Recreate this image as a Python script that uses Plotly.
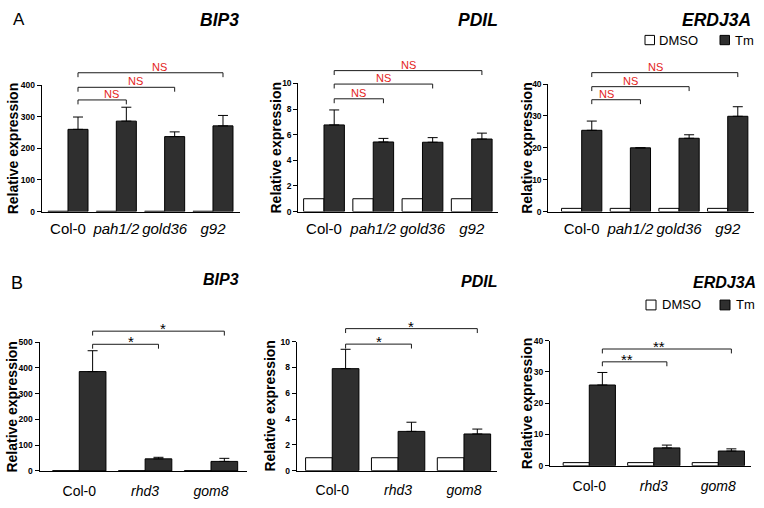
import plotly.graph_objects as go

W, H = 764, 508
FONT = "Liberation Sans, Arial, sans-serif"

# ---------------- data ----------------
cats_A = ["Col-0", "pah1/2", "gold36", "g92"]
labels_A = ["Col-0", "<i>pah1/2</i>", "<i>gold36</i>", "<i>g92</i>"]
cats_B = ["Col-0", "rhd3", "gom8"]
labels_B = ["Col-0", "<i>rhd3</i>", "<i>gom8</i>"]

genes = ["BIP3", "PDIL", "ERDJ3A"]

bip3_A_dmso = [1, 1, 1, 1]
bip3_A_tm = [260, 286, 237, 271]
bip3_A_err = [39, 44, 15, 33]
pdil_A_dmso = [1, 1, 1, 1]
pdil_A_tm = [6.76, 5.43, 5.41, 5.66]
pdil_A_err = [1.17, 0.28, 0.36, 0.46]
erdj_A_dmso = [1, 1, 1, 1]
erdj_A_tm = [25.5, 20.0, 23.0, 29.9]
erdj_A_err = [2.9, 0.0, 1.1, 3.0]

bip3_B_dmso = [1, 1, 1]
bip3_B_tm = [386, 47, 37]
bip3_B_err = [81, 6, 12]
pdil_B_dmso = [1, 1, 1]
pdil_B_tm = [7.9, 3.04, 2.84]
pdil_B_err = [1.5, 0.71, 0.38]
erdj_B_dmso = [1, 1, 1]
erdj_B_tm = [25.8, 5.7, 4.7]
erdj_B_err = [4.0, 0.9, 0.7]

ticks_bip3_A = [0, 100, 200, 300, 400]
ticks_pdil = [0, 2, 4, 6, 8, 10]
ticks_erdj = [0, 10, 20, 30, 40]
ticks_bip3_B = [0, 100, 200, 300, 400, 500]

# significance brackets: heights (data units) and labels, compared against Col-0
sig_bip3_A = [353, 393, 439]
sig_pdil_A = [8.8, 9.95, 11.0]
sig_erdj_A = [35.1, 39.2, 43.6]
sig_labels_A = ["NS", "NS", "NS"]
sig_bip3_B = [492, 543]
sig_pdil_B = [9.8, 11.0]
sig_erdj_B = [33.2, 37.3]
sig_labels_B_star = ["*", "*"]
sig_labels_B_2star = ["**", "**"]

# ---------------- panel geometry (pixels) ----------------
panels = [
    dict(cats=cats_A, labels=labels_A, dmso=bip3_A_dmso, tm=bip3_A_tm, err=bip3_A_err,
         ticks=ticks_bip3_A, sig=sig_bip3_A, siglab=sig_labels_A, gene="BIP3",
         xl=41.7, xr=240, yb=210.7, yt=81.7, xr_rng=(-0.544, 3.559), w=0.414,
         ytitle_x=13.0, title_x=241, title_y=15, row=0),
    dict(cats=cats_A, labels=labels_A, dmso=pdil_A_dmso, tm=pdil_A_tm, err=pdil_A_err,
         ticks=ticks_pdil, sig=sig_pdil_A, siglab=sig_labels_A, gene="PDIL",
         xl=298.3, xr=498.3, yb=210.7, yt=80, xr_rng=(-0.522, 3.54), w=0.414,
         ytitle_x=276, title_x=500, title_y=15, row=0),
    dict(cats=cats_A, labels=labels_A, dmso=erdj_A_dmso, tm=erdj_A_tm, err=erdj_A_err,
         ticks=ticks_erdj, sig=sig_erdj_A, siglab=sig_labels_A, gene="ERDJ3A",
         xl=548.3, xr=754, yb=210.7, yt=80.7, xr_rng=(-0.686, 3.54), w=0.414,
         ytitle_x=527, title_x=753, title_y=15, row=0),
    dict(cats=cats_B, labels=labels_B, dmso=bip3_B_dmso, tm=bip3_B_tm, err=bip3_B_err,
         ticks=ticks_bip3_B, sig=sig_bip3_B, siglab=sig_labels_B_star, gene="BIP3",
         xl=39.5, xr=246.7, yb=475.3, yt=344, xr_rng=(-0.604, 2.542), w=0.405,
         ytitle_x=12.0, title_x=241.3, title_y=280, row=1),
    dict(cats=cats_B, labels=labels_B, dmso=pdil_B_dmso, tm=pdil_B_tm, err=pdil_B_err,
         ticks=ticks_pdil, sig=sig_pdil_B, siglab=sig_labels_B_star, gene="PDIL",
         xl=296.7, xr=496.7, yb=475, yt=343.3, xr_rng=(-0.54, 2.497), w=0.405,
         ytitle_x=270.5, title_x=499.3, title_y=282, row=1),
    dict(cats=cats_B, labels=labels_B, dmso=erdj_B_dmso, tm=erdj_B_tm, err=erdj_B_err,
         ticks=ticks_erdj, sig=sig_erdj_B, siglab=sig_labels_B_2star, gene="ERDJ3A",
         xl=550, xr=750.7, yb=470, yt=342.3, xr_rng=(-0.609, 2.502), w=0.405,
         ytitle_x=527, title_x=757.7, title_y=283, row=1),
]

fig = go.Figure()
shapes = []
annotations = []

def pxp(x):
    return x / W

def pyp(y):
    return 1 - y / H

for i, p in enumerate(panels):
    k = "" if i == 0 else str(i + 1)
    xa, ya = "x" + k, "y" + k
    n = len(p["cats"])
    w = p["w"]
    ymax = p["ticks"][-1]
    fig.add_trace(go.Bar(x=p["cats"], y=p["dmso"], width=w, offset=-w,
                         marker=dict(color="white", line=dict(color="black", width=1)),
                         xaxis=xa, yaxis=ya, showlegend=False, name="DMSO"))
    fig.add_trace(go.Bar(x=p["cats"], y=p["tm"], width=w, offset=0,
                         marker=dict(color="#2f2f2f", line=dict(color="black", width=1)),
                         error_y=dict(type="data", array=p["err"], arrayminus=[0] * n,
                                      symmetric=False, color="black", thickness=1, width=5),
                         xaxis=xa, yaxis=ya, showlegend=False, name="Tm"))
    tf = 15 if p["row"] == 0 else 14
    fig.layout["xaxis" + k] = dict(
        domain=[pxp(p["xl"]), pxp(p["xr"])], range=list(p["xr_rng"]), anchor=ya,
        showline=True, linecolor="black", linewidth=1, ticks="", showgrid=False,
        zeroline=False, tickvals=p["cats"], ticktext=p["labels"], tickangle=0,
        tickfont=dict(size=tf, color="black", family=FONT),
        ticklabelstandoff=3 if p["row"] == 0 else 7,
        fixedrange=True)
    fig.layout["yaxis" + k] = dict(
        domain=[pyp(p["yb"]), pyp(p["yt"])], range=[0, ymax], anchor=xa,
        showline=True, linecolor="black", linewidth=1, ticks="outside", ticklen=4,
        tickwidth=1, tickcolor="black", tickvals=p["ticks"], showgrid=False,
        zeroline=False, tickfont=dict(size=8.5, color="black", family=FONT, weight="bold"),
        fixedrange=True)

    lo, hi = p["xr_rng"]

    def xpix(v, p=p, lo=lo, hi=hi):
        return p["xl"] + (v - lo) / (hi - lo) * (p["xr"] - p["xl"])

    def ypix(v, p=p, ymax=ymax):
        return p["yb"] - v / ymax * (p["yb"] - p["yt"])

    # significance brackets
    x0 = xpix(0 + w / 2)
    for j, (hgt, lab) in enumerate(zip(p["sig"], p["siglab"])):
        x1 = xpix(j + 1 + w / 2)
        yl = ypix(hgt)
        tick = 4.5
        path = "M {} {} L {} {} L {} {} L {} {}".format(
            pxp(x0), pyp(yl + tick), pxp(x0), pyp(yl), pxp(x1), pyp(yl), pxp(x1), pyp(yl + tick))
        shapes.append(dict(type="path", path=path, xref="paper", yref="paper",
                           line=dict(color="#1a1a1a", width=1)))
        if lab == "NS":
            annotations.append(dict(x=pxp((x0 + x1) / 2), y=pyp(yl), xref="paper", yref="paper",
                                    text=lab, showarrow=False, yanchor="bottom", yshift=-2,
                                    font=dict(size=11, color="#e3241b", family=FONT)))
        else:
            annotations.append(dict(x=pxp((x0 + x1) / 2), y=pyp(yl), xref="paper", yref="paper",
                                    text=lab, showarrow=False, yanchor="bottom", yshift=-8,
                                    font=dict(size=15, color="black", family=FONT)))

    # y-axis title
    annotations.append(dict(x=pxp(p["ytitle_x"]), y=pyp((p["yb"] + p["yt"]) / 2),
                            xref="paper", yref="paper", text="Relative expression",
                            textangle=-90, showarrow=False, xanchor="center", yanchor="middle",
                            font=dict(size=14, color="black", family=FONT, weight="bold")))
    # gene title
    gsize = 17.5 if p["row"] == 0 else 16
    annotations.append(dict(x=pxp(p["title_x"]), y=pyp(p["title_y"]), xref="paper", yref="paper",
                            text=p["gene"], showarrow=False, xanchor="right", yanchor="middle",
                            font=dict(size=gsize, color="black", family=FONT, weight="bold",
                                      style="italic")))

# panel letters
annotations.append(dict(x=pxp(10.5), y=pyp(15), xref="paper", yref="paper", text="A",
                        showarrow=False, xanchor="left", yanchor="middle",
                        font=dict(size=17, color="black", family=FONT)))
annotations.append(dict(x=pxp(8.5), y=pyp(283.3), xref="paper", yref="paper", text="B",
                        showarrow=False, xanchor="left", yanchor="middle",
                        font=dict(size=18, color="black", family=FONT)))

# legends (top and bottom)
for (bx0, by0, bs, tx1, bx1, tx2) in [(645, 31, 9.5, 657, 720, 733), (646, 301, 10, 660, 720, 734)]:
    shapes.append(dict(type="rect", xref="paper", yref="paper", x0=pxp(bx0), x1=pxp(bx0 + bs),
                       y0=pyp(by0), y1=pyp(by0 + bs), fillcolor="white",
                       line=dict(color="black", width=1)))
    shapes.append(dict(type="rect", xref="paper", yref="paper", x0=pxp(bx1), x1=pxp(bx1 + bs),
                       y0=pyp(by0), y1=pyp(by0 + bs), fillcolor="#2f2f2f",
                       line=dict(color="black", width=1)))
    annotations.append(dict(x=pxp(tx1), y=pyp(by0 + bs / 2), xref="paper", yref="paper",
                            text="DMSO", showarrow=False, xanchor="left", yanchor="middle",
                            font=dict(size=13, color="black", family=FONT)))
    annotations.append(dict(x=pxp(tx2), y=pyp(by0 + bs / 2), xref="paper", yref="paper",
                            text="Tm", showarrow=False, xanchor="left", yanchor="middle",
                            font=dict(size=13, color="black", family=FONT)))

fig.update_layout(width=W, height=H, margin=dict(l=0, r=0, t=0, b=0),
                  paper_bgcolor="white", plot_bgcolor="white", barmode="overlay",
                  shapes=shapes, annotations=annotations, showlegend=False,
                  font=dict(family=FONT, color="black"))

fig.write_html("out.html", config={"displayModeBar": False},
               post_script="document.body.style.margin='0';document.body.style.overflow='hidden';")
